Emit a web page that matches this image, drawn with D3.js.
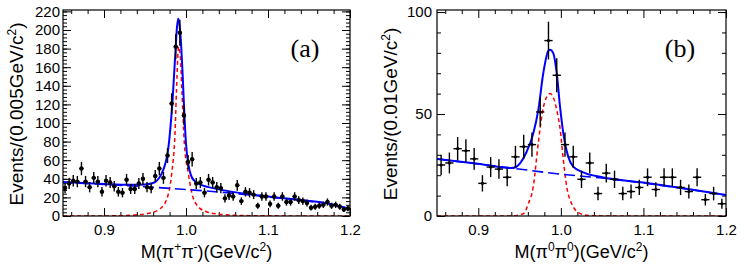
<!DOCTYPE html>
<html>
<head>
<meta charset="utf-8">
<script src="https://cdn.jsdelivr.net/npm/d3@7"></script>
<style>
body{margin:0;background:#fff}
text{font-family:"Liberation Sans",Arial,sans-serif}
</style>
</head>
<body>
<svg id="chart" width="747" height="267"></svg>
<script>
// ---- data ----
// (a) pi+pi- : 70 bins of 0.005 from 0.85
var countsA = [30,35,38,37,51,37,31,41,37,26, 38,36,32,26,25,39,29,29,35,40,
               31,30,43,51,41,65,121,182,197,108, 58,61,35,36,25,39,36,31,30,19,
               22,21,33,16,26,25,23,11,21,21, 13,21,11,21,15,15,21,17,16,14,
               9,10,11,12,15,11,12,10,7,8];
// (b) pi0pi0 : 35 bins of 0.01 from 0.85
var countsB = [25,26,33,32,28,16,24,23,19,29, 34,35,51,86,69,35,29,18,26,11,
               21,18,11,12,14,19,13,19,19,14, 12,19,8,11,6];

// fit curves [mass, events]
var totA = [[0.85,36.5],[0.90,34.5],[0.93,33.5],[0.95,34],[0.96,35.5],[0.965,38.5],[0.97,45],[0.975,57],
            [0.978,70],[0.981,95],[0.984,130],[0.987,175],[0.989,203],[0.9905,212],[0.992,206],[0.994,185],
            [0.996,150],[0.998,110],[1.0,78],[1.003,55],[1.006,44],[1.01,38],[1.02,33],[1.03,30.5],
            [1.05,27],[1.1,21],[1.15,16.2],[1.176,13],[1.2,7.6]];
var bkgA = [[0.85,36],[0.90,34],[0.95,31.5],[1.0,28.5],[1.05,25],[1.1,20.5],[1.15,16],[1.176,12.9],[1.2,7.5]];
var sigA = [[0.85,0],[0.90,0.1],[0.92,0.3],[0.94,1.3],[0.956,3.2],[0.968,7.5],[0.9765,18],[0.9826,46],
            [0.9866,89],[0.989,150],[0.991,182],[0.993,172],[0.995,135],[0.998,78],[1.003,45],[1.007,25],
            [1.015,10],[1.025,4.6],[1.04,2],[1.06,0.8],[1.1,0.2],[1.2,0]];

var totB = [[0.85,28],[0.90,25.6],[0.94,23.5],[0.945,23.9],[0.9505,25.8],[0.9586,31.5],[0.9666,40.5],
            [0.9727,52],[0.9787,70],[0.9848,81],[0.987,81.5],[0.9909,79.7],[0.995,70],[0.999,53.6],
            [1.003,40.5],[1.009,29],[1.015,24.2],[1.027,21.4],[1.05,19],[1.1,16.4],[1.15,13.5],[1.2,10.3]];
var bkgB = [[0.85,28],[0.94,23.5],[1.0,20.5],[1.05,18.6],[1.1,16.2],[1.15,13.4],[1.2,10.3]];
var sigB = [[0.85,0],[0.94,0],[0.948,0.4],[0.955,1.3],[0.9606,6],[0.9666,14.4],[0.9727,36],[0.9787,53],
            [0.983,58.5],[0.987,60],[0.991,58],[0.995,52],[0.999,43],[1.003,27.5],[1.0071,14.4],
            [1.0131,6],[1.0232,1.3],[1.035,0.2],[1.06,0],[1.2,0]];

var xMajor = [0.9,1.0,1.1,1.2];
var xLabels = ["0.9","1.0","1.1","1.2"];
var yMajorA = [0,20,40,60,80,100,120,140,160,180,200,220];
var yMajorB = [0,50,100];

var svg = d3.select("#chart");

function drawPanel(o){
    var x = d3.scaleLinear().domain([0.85,1.2]).range([o.left,o.right]);
    var y = d3.scaleLinear().domain([0,o.ymax]).range([o.bottom,o.top]);
    var g = svg.append("g");
    var cid = "clip"+o.name;
    svg.append("clipPath").attr("id",cid).append("rect")
        .attr("x",o.left).attr("y",o.top).attr("width",o.right-o.left).attr("height",o.bottom-o.top);

    var xMinor = d3.range(0.86,1.2,0.02).filter(function(v){return Math.abs(Math.round(v*10)-v*10)>1e-6;});
    var yMinor = d3.range(0,o.ymax,o.yminor);

    function ax(gen, tr, vals, size, fmt, pad){
        var a = g.append("g").attr("transform",tr)
            .call(gen.tickValues(vals).tickSize(size).tickPadding(pad).tickFormat(fmt));
        a.select(".domain").remove();
        a.selectAll("line").attr("stroke","#000").attr("stroke-width",1);
        a.selectAll("text").style("font-size","15px").attr("fill","#000");
        return a;
    }
    var none = function(){return "";};
    ax(d3.axisBottom(x),"translate(0,"+o.bottom+")",xMajor,-8,function(d,i){return xLabels[i];},8);
    ax(d3.axisBottom(x),"translate(0,"+o.bottom+")",xMinor,-4,none,8);
    ax(d3.axisTop(x),"translate(0,"+o.top+")",xMajor,-8,none,3);
    ax(d3.axisTop(x),"translate(0,"+o.top+")",xMinor,-4,none,3);
    ax(d3.axisLeft(y),"translate("+o.left+",0)",o.ymajor,-8,d3.format("d"),o.lpad);
    ax(d3.axisLeft(y),"translate("+o.left+",0)",yMinor,-4,none,3);
    ax(d3.axisRight(y),"translate("+o.right+",0)",o.ymajor,-8,none,3);
    ax(d3.axisRight(y),"translate("+o.right+",0)",yMinor,-4,none,3);

    var plot = g.append("g").attr("clip-path","url(#"+cid+")");
    var line = d3.line().x(function(d){return x(d[0]);}).y(function(d){return y(d[1]);})
        .curve(d3.curveMonotoneX);
    plot.append("path").datum(o.sig).attr("d",line).attr("fill","none")
        .attr("stroke","#ff0000").attr("stroke-width",1.5).attr("stroke-dasharray","4,3");
    plot.append("path").datum(o.bkg).attr("d",line).attr("fill","none")
        .attr("stroke","#0000ff").attr("stroke-width",1.6).attr("stroke-dasharray","11,5");
    plot.append("path").datum(o.tot).attr("d",line).attr("fill","none")
        .attr("stroke","#0000ff").attr("stroke-width",2);

    // data points with poisson errors
    var pts = plot.selectAll(".pt").data(o.counts).enter().append("g").attr("class","pt");
    var cx = function(d,i){return x(0.85+o.bw*(i+0.5));};
    pts.append("line")
        .attr("x1",cx).attr("x2",cx)
        .attr("y1",function(d){return y(d+Math.sqrt(d));})
        .attr("y2",function(d){return y(d-Math.sqrt(d));})
        .attr("stroke","#000").attr("stroke-width",1.4);
    pts.append("line")
        .attr("x1",function(d,i){return x(0.85+o.bw*i);})
        .attr("x2",function(d,i){return x(0.85+o.bw*(i+1));})
        .attr("y1",function(d){return y(d);}).attr("y2",function(d){return y(d);})
        .attr("stroke","#000").attr("stroke-width",1.4);
    pts.append("circle").attr("cx",cx).attr("cy",function(d){return y(d);})
        .attr("r",o.r).attr("fill","#000");

    g.append("rect").attr("x",o.left).attr("y",o.top)
        .attr("width",o.right-o.left).attr("height",o.bottom-o.top)
        .attr("fill","none").attr("stroke","#000").attr("stroke-width",1.2);

    // titles
    var yt = g.append("text").attr("transform","translate("+o.ytx+","+((o.top+o.bottom)/2+1)+") rotate(-90)")
        .attr("text-anchor","middle").style("font-size","19px");
    yt.append("tspan").text(o.ytitle);
    yt.append("tspan").attr("baseline-shift","super").style("font-size","12px").text("2");
    yt.append("tspan").text(")");

    var xt = g.append("text").attr("x",(o.left+o.right)/2).attr("y",258)
        .attr("text-anchor","middle").style("font-size","18px");
    xt.append("tspan").text("M(\u03c0");
    xt.append("tspan").attr("baseline-shift","super").style("font-size","12px").text(o.q1);
    xt.append("tspan").text("\u03c0");
    xt.append("tspan").attr("baseline-shift","super").style("font-size","12px").text(o.q2);
    xt.append("tspan").text(")(GeV/c");
    xt.append("tspan").attr("baseline-shift","super").style("font-size","12px").text("2");
    xt.append("tspan").text(")");

    g.append("text").attr("x",o.tagx).attr("y",57).attr("text-anchor","middle")
        .style("font-family","'Liberation Serif','Times New Roman',serif").style("font-size","26px")
        .text(o.tag);
}

drawPanel({name:"a",left:63,right:350,top:10,bottom:216,ymax:221.5,ymajor:yMajorA,yminor:4,lpad:3,
    counts:countsA,bw:0.005,r:2.2,tot:totA,bkg:bkgA,sig:sigA,ytx:23,
    ytitle:"Events/(0.005GeV/c",q1:"+",q2:"-",tag:"(a)",tagx:305});
drawPanel({name:"b",left:437,right:726,top:10,bottom:216,ymax:101,ymajor:yMajorB,yminor:10,lpad:5,
    counts:countsB,bw:0.01,r:1.6,tot:totB,bkg:bkgB,sig:sigB,ytx:397,
    ytitle:"Events/(0.01GeV/c",q1:"0",q2:"0",tag:"(b)",tagx:680});
</script>
</body>
</html>
